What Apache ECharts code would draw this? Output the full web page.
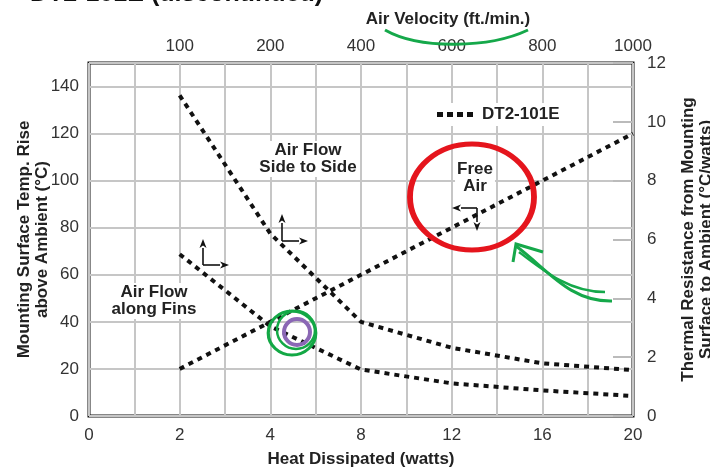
<!DOCTYPE html>
<html><head><meta charset="utf-8">
<script src="https://cdn.jsdelivr.net/npm/echarts@6/dist/echarts.min.js"></script>
<style>html,body{margin:0;padding:0;background:#fff}#c{width:710px;height:470px}</style>
</head><body><div id="c"></div>
<script>
// ---- data ----
const heatTicks = [0, 2, 4, 8, 12, 16, 20];           // bottom axis labels (watts)
const velocityTicks = [100, 200, 400, 600, 800, 1000]; // top axis labels (ft./min.)
const freeAirHeat = [2, 4, 8, 12, 16, 20];
const freeAirTempRise = [20, 40, 60, 80, 100, 120];
const flowVelocity = [100, 200, 400, 600, 800, 1000];
const sideToSideRes = [10.9, 6.2, 3.2, 2.32, 1.79, 1.56];
const alongFinsRes = [5.5, 3.05, 1.58, 1.11, 0.87, 0.68];
const seriesName = 'DT2-101E';

// ---- axis scale (the chart's axes are piecewise: ticks evenly spaced) ----
const heatTickPos = [0, 2, 4, 6, 8, 10, 12];
const velocityTickPos = [2, 4, 6, 8, 10, 12];
function toPos(v, ticks, pos) {
  for (let i = 0; i < ticks.length - 1; i++) {
    if (v <= ticks[i + 1] || i === ticks.length - 2) {
      return pos[i] + (v - ticks[i]) / (ticks[i + 1] - ticks[i]) * (pos[i + 1] - pos[i]);
    }
  }
  return pos[0];
}
function labelAt(v, ticks, pos) {
  const i = pos.indexOf(Math.round(v * 1000) / 1000);
  return i >= 0 ? String(ticks[i]) : '';
}

const FONT = "'Liberation Sans', Arial, Helvetica, sans-serif";
const lineStyle = { color: '#111', width: 4, type: [5, 5], cap: 'butt' };
const gridColor = '#c6c6c6';

function arrowEls(x0, y0, x1, y1) {
  const ang = Math.atan2(y1 - y0, x1 - x0);
  const L = 9, W = 3.5;
  const bx = x1 - L * Math.cos(ang), by = y1 - L * Math.sin(ang);
  const nx = -Math.sin(ang) * W, ny = Math.cos(ang) * W;
  return [
    { type: 'line', shape: { x1: x0, y1: y0, x2: bx, y2: by }, style: { stroke: '#111', lineWidth: 1.6 }, z: 50 },
    { type: 'polygon', shape: { points: [[x1, y1], [bx + nx, by + ny], [bx + 2.5 * Math.cos(ang), by + 2.5 * Math.sin(ang)], [bx - nx, by - ny]] }, style: { fill: '#111' }, z: 50 }
  ];
}
function txt(text, x, y, extra) {
  return Object.assign({ type: 'text', z: 40, style: Object.assign({
    text: text, x: x, y: y, font: 'bold 17px ' + FONT, fill: '#222',
    align: 'center', verticalAlign: 'middle', lineHeight: 17
  }, extra || {}) });
}

const graphics = [
  txt('DT2-101E (discontinued)', 30, -6, { align: 'left', font: 'bold 25px ' + FONT, fill: '#111' }),
  txt('Air Velocity (ft./min.)', 448, 19, { fill: '#222' }),
  txt('Air Flow\nSide to Side', 308, 159, { backgroundColor: '#fff', padding: [1, 2] }),
  txt('Free\nAir', 475, 178, { backgroundColor: '#fff', padding: [1, 2] }),
  txt('Air Flow\nalong Fins', 154, 301, { backgroundColor: '#fff', padding: [1, 2] }),
  ...arrowEls(203, 265, 203, 239), ...arrowEls(203, 265, 229, 265),
  ...arrowEls(282, 241, 282, 214), ...arrowEls(282, 241, 308, 241),
  ...arrowEls(477, 208, 452, 208), ...arrowEls(477, 208, 477, 231),
  // hand-drawn annotations
  { type: 'circle', shape: { cx: 472, cy: 197, r: 53 }, scaleX: 1.17, originX: 472, originY: 197,
    style: { stroke: '#e5151d', lineWidth: 5, fill: null, strokeNoScale: true }, z: 60 },
  { type: 'bezierCurve', shape: { x1: 385, y1: 30, x2: 528, y2: 30, cpx1: 420, cpy1: 50, cpx2: 490, cpy2: 48 },
    style: { stroke: '#15a84a', lineWidth: 3, fill: null }, z: 60 },
  { type: 'bezierCurve', shape: { x1: 612, y1: 301, x2: 516, y2: 246, cpx1: 570, cpy1: 302, cpx2: 548, cpy2: 270 },
    style: { stroke: '#15a84a', lineWidth: 3, fill: null }, z: 60 },
  { type: 'bezierCurve', shape: { x1: 605, y1: 292, x2: 519, y2: 252, cpx1: 570, cpy1: 292, cpx2: 545, cpy2: 272 },
    style: { stroke: '#15a84a', lineWidth: 2.5, fill: null }, z: 60 },
  { type: 'polyline', shape: { points: [[543, 252], [516, 244], [513, 262]] },
    style: { stroke: '#15a84a', lineWidth: 3, fill: null }, z: 60 },
  { type: 'circle', shape: { cx: 297, cy: 332, r: 13 }, style: { stroke: '#8b68b5', lineWidth: 4, fill: null }, z: 61 },
  { type: 'circle', shape: { cx: 292, cy: 333, r: 22 }, scaleX: 1.08, originX: 292, originY: 333,
    style: { stroke: '#13a845', lineWidth: 3, fill: null, strokeNoScale: true }, z: 62 },
  { type: 'circle', shape: { cx: 296, cy: 330, r: 19 }, style: { stroke: '#13a845', lineWidth: 2.5, fill: null }, z: 62 }
];

const chart = echarts.init(document.getElementById('c'), null, { renderer: 'canvas' });
chart.setOption({
  animation: false,
  backgroundColor: '#fff',
  color: ['#111'],
  textStyle: { fontFamily: FONT },
  grid: { left: 89, right: 77, top: 63, bottom: 54, show: true, borderColor: '#111', borderWidth: 3,
    backgroundColor: 'transparent', containLabel: false, outerBoundsMode: 'none' },
  legend: {
    data: [{ name: seriesName, icon: 'path://M0,0h6v5h-6z M10,0h6v5h-6z M20,0h6v5h-6z M30,0h6v5h-6z' }],
    left: 431, top: 103, itemWidth: 36, itemHeight: 5, itemGap: 10,
    backgroundColor: '#fff', padding: [3, 6],
    itemStyle: { color: '#111', borderWidth: 0 },
    textStyle: { fontFamily: FONT, fontWeight: 'bold', fontSize: 17, color: '#222', padding: [0, 0, 0, 4] }
  },
  xAxis: [
    {
      type: 'value', min: 0, max: 12, interval: 1, position: 'bottom',
      name: 'Heat Dissipated (watts)', nameLocation: 'middle', nameGap: 35, nameMoveOverlap: false,
      nameTextStyle: { fontFamily: FONT, fontWeight: 'bold', fontSize: 17, color: '#222' },
      axisLine: { show: false, onZero: false }, axisTick: { show: false },
      splitLine: { show: true, lineStyle: { color: gridColor, width: 2 } },
      axisLabel: { fontFamily: FONT, fontSize: 17, color: '#333', margin: 11, showMinLabel: true, showMaxLabel: true,
        formatter: v => labelAt(v, heatTicks, heatTickPos) }
    },
    {
      type: 'value', min: 0, max: 12, interval: 1, position: 'top',
      axisLine: { show: false, onZero: false }, axisTick: { show: false }, splitLine: { show: false },
      axisLabel: { fontFamily: FONT, fontSize: 17, color: '#333', margin: 8, showMinLabel: true, showMaxLabel: true,
        formatter: v => labelAt(v, velocityTicks, velocityTickPos) }
    }
  ],
  yAxis: [
    {
      type: 'value', min: 0, max: 150, interval: 20, position: 'left',
      name: 'Mounting Surface Temp. Rise\nabove Ambient (°C)', nameLocation: 'middle', nameGap: 38, nameRotate: 90,
      nameMoveOverlap: false,
      nameTextStyle: { fontFamily: FONT, fontWeight: 'bold', fontSize: 17, color: '#222', lineHeight: 18 },
      axisLine: { show: false, onZero: false }, axisTick: { show: false },
      splitLine: { show: true, lineStyle: { color: gridColor, width: 2 } },
      axisLabel: { fontFamily: FONT, fontSize: 17, color: '#333', margin: 10, formatter: v => (v > 140 ? '' : String(v)) }
    },
    {
      type: 'value', min: 0, max: 12, interval: 2, position: 'right',
      name: 'Thermal Resistance from Mounting\nSurface to Ambient (°C/watts)', nameLocation: 'middle', nameGap: 46, nameRotate: 90,
      nameMoveOverlap: false,
      nameTextStyle: { fontFamily: FONT, fontWeight: 'bold', fontSize: 17, color: '#222', lineHeight: 18 },
      axisLine: { show: false, onZero: false },
      axisTick: { show: true, inside: true, length: 20, lineStyle: { color: '#bbb', width: 2 } },
      splitLine: { show: false },
      axisLabel: { fontFamily: FONT, fontSize: 17, color: '#333', margin: 14 }
    }
  ],
  series: [
    { type: 'line', name: seriesName, xAxisIndex: 0, yAxisIndex: 0, symbol: 'none', showSymbol: false, lineStyle: lineStyle, z: 10,
      data: freeAirHeat.map((h, i) => [toPos(h, heatTicks, heatTickPos), freeAirTempRise[i]]) },
    { type: 'line', name: seriesName, xAxisIndex: 1, yAxisIndex: 1, symbol: 'none', showSymbol: false, lineStyle: lineStyle, z: 10,
      data: flowVelocity.map((v, i) => [toPos(v, velocityTicks, velocityTickPos), sideToSideRes[i]]) },
    { type: 'line', name: seriesName, xAxisIndex: 1, yAxisIndex: 1, symbol: 'none', showSymbol: false, lineStyle: lineStyle, z: 10,
      data: flowVelocity.map((v, i) => [toPos(v, velocityTicks, velocityTickPos), alongFinsRes[i]]) }
  ],
  graphic: graphics
});
</script>
</body></html>
